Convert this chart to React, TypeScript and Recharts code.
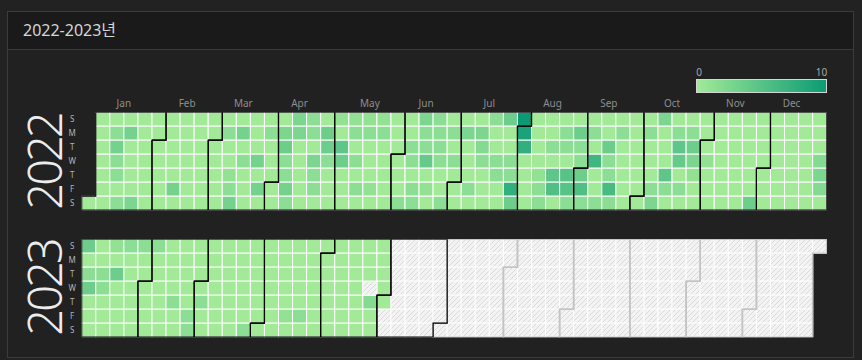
import React from 'react';
import { ScatterChart, Scatter, XAxis, YAxis } from 'recharts';

const TITLE = '2022-2023년';
const MONTH_NAMES = ['Jan', 'Feb', 'Mar', 'Apr', 'May', 'Jun', 'Jul', 'Aug', 'Sep', 'Oct', 'Nov', 'Dec'];
const DAY_LETTERS = ['S', 'M', 'T', 'W', 'T', 'F', 'S'];
const LEGEND_MIN = 0;
const LEGEND_MAX = 10;

type Col = (number | null)[];

// one entry per calendar week (columns), rows Sun..Sat; null = no value
const weeks2022: Col[] = [
  [null, null, null, null, null, null, 0],
  [0, 0, 0, 0, 0, 0, 0],
  [0, 1.5, 3, 1.5, 1.5, 0, 1.5],
  [0, 3, 0, 0, 0, 0, 2.5],
  [0, 0, 0, 0, 0, 0, 0],
  [0, 0, 0, 0, 0, 0, 0],
  [0, 0, 0, 0, 0, 3, 0],
  [0, 0, 0, 0, 0, 0, 0],
  [0, 0, 0, 0, 0, 0, 0],
  [0, 0, 0, 0, 0, 0, 0],
  [0, 1.5, 0, 0, 1, 1.5, 3],
  [0, 3, 0, 1.5, 0, 0, 0],
  [0, 0, 0, 3, 0, 3, 0],
  [0, 1.5, 0, 0, 0, 0, 0],
  [0, 2.5, 3.5, 1.5, 1.5, 3, 1.5],
  [2.5, 2.5, 0, 0, 0, 0, 0],
  [1.5, 1.5, 0, 2.5, 1.5, 1.5, 0],
  [0, 3.5, 3.5, 1.5, 0, 0, 0],
  [1, 0, 4.5, 3.5, 0, 0, 0],
  [1, 1.5, 0, 1.5, 0, 1.5, 0],
  [1, 1.5, 0, 0, 0, 1, 0],
  [1, 1.5, 0, 0, 0, 0, 0],
  [0, 0, 0, 0, 0, 0, 1.5],
  [0, 0, 1.5, 1.5, 0, 1.5, 1.5],
  [2.5, 1.5, 1.5, 4, 0, 1, 0],
  [1.5, 1.5, 1.5, 1.5, 0, 0, 1.5],
  [0, 1.5, 0, 1.5, 0, 0, 0],
  [0, 2.5, 0, 0, 0, 1.5, 0],
  [0, 2.5, 2, 1.5, 0, 0, 0],
  [1.5, 0, 0, 1.5, 1.5, 0, 0],
  [3.5, 0, 0, 1.5, 1.5, 7.5, 3.5],
  [10, 9, 7.5, 0, 0, 0, 0],
  [0, 0, 0, 0, 1, 1.5, 1.5],
  [0, 0, 1.5, 0, 4.5, 5.5, 0],
  [0, 1.5, 1.5, 0, 5, 5, 1.5],
  [0, 3.5, 1.5, 1.5, 3.5, 5.5, 1.5],
  [0, 1.5, 0, 6.5, 0, 0, 1.5],
  [0, 0, 3.5, 1.5, 1.5, 6, 1.5],
  [0, 1.5, 0, 0, 0, 0, 0],
  [0, 0, 0, 0, 0, 0, 0],
  [0, 1.5, 0, 0, 0, 1.5, 2.5],
  [2.5, 0, 0, 0, 4.5, 1.5, 0],
  [0, 1.5, 4.5, 4, 0, 1.5, 0],
  [0, 1.5, 3.5, 2.5, 1, 0, 0],
  [0, 0, 0, 1, 0, 0, 0],
  [0, 0, 0, 0, 0, 0, 0],
  [0, 0, 0, 0, 0, 0, 0],
  [0, 0, 0, 0, 0, 0, 3.5],
  [0, 0, 0, 0, 0, 0, 0],
  [0, 0, 0, 0, 0, 0, 0],
  [0, 0, 0, 0, 0, 0, 0],
  [0, 0, 0, 0, 0, 0, 0],
  [0, 0, 0, 2, 2.5, 2, 0],
];

const weeks2023: Col[] = [
  [3.5, 0, 1.5, 3.5, 0, 0, 0],
  [0, 0, 1.5, 1.5, 0, 0, 0],
  [1, 0, 3.5, 0, 0, 0, 0],
  [1.5, 0, 0, 0, 0, 0, 0],
  [1.5, 0, 0, 0, 0, 0, 0],
  [1.5, 0, 0, 0, 0, 0, 0],
  [0, 0, 0, 0, 1.5, 0, 0],
  [0, 0, 0, 0, 0, 1.5, 1.5],
  [0, 0, 0, 0, 1.5, 0, 0],
  [0, 0, 0, 0, 0, 0, 0],
  [0, 0, 0, 0, 0, 0, 0],
  [0, 0, 0, 0, 0, 0, 1.5],
  [0, 0, 0, 0, 0, 0, 0],
  [0, 0, 0, 0, 0, 0, 0],
  [0, 0, 0, 0, 0, 1, 0],
  [0, 0, 0, 0, 0, 1.5, 0],
  [0, 0, 0, 0, 0, 0, 0],
  [0, 0, 0, 0, 0, 0, 0],
  [0, 0, 0, 0, 0, 0, 0],
  [0, 0, 0, 0, 0, 0, 0],
  [0, 0, 0, null, 2, 0, 0],
  [0, 0, 0, 0, 0, null, null],
];

const FONT = "'Noto Sans', 'Noto Sans CJK KR', sans-serif";
const PLOT_LEFT = 81.7;
const PLOT_RIGHT = 826.7;
const PLOT_W = PLOT_RIGHT - PLOT_LEFT;
const PLOT_H = 98;
const WEEKS = 53;
const CW = PLOT_W / WEEKS;
const CH = PLOT_H / 7;
const PAGE_W = 862;

const LOW = [162, 234, 152];
const HIGH = [11, 155, 116];
const hex = (n: number) => Math.round(n).toString(16).padStart(2, '0');
function colorFor(v: number) {
  const t = Math.max(0, Math.min(1, (v - LEGEND_MIN) / (LEGEND_MAX - LEGEND_MIN)));
  return '#' + LOW.map((l, i) => hex(l + (HIGH[i] - l) * t)).join('');
}

const DAY_MS = 86400000;

function buildYear(year: number, weeks: Col[]) {
  const start = Date.UTC(year, 0, 1);
  const offset = new Date(start).getUTCDay();
  const end = Date.UTC(year + 1, 0, 1);
  const nDays = Math.round((end - start) / DAY_MS);
  const cells: { x: number; y: number; v: number | null; m: number; w: number; r: number }[] = [];
  for (let i = 0; i < nDays; i++) {
    const d = new Date(start + i * DAY_MS);
    const w = Math.floor((i + offset) / 7);
    const r = d.getUTCDay();
    const col = weeks[w];
    const raw = col ? col[r] : null;
    cells.push({ x: w + 0.5, y: r + 0.5, v: raw == null ? null : raw, m: d.getUTCMonth(), w, r });
  }
  const months = MONTH_NAMES.map((name, m) => {
    const mc = cells.filter((c) => c.m === m);
    const a = mc[0];
    const b = mc[mc.length - 1];
    const pts = [
      { x: a.w, y: a.r },
      { x: a.w + 1, y: a.r },
      { x: a.w + 1, y: 0 },
      { x: b.w + 1, y: 0 },
      { x: b.w + 1, y: b.r + 1 },
      { x: b.w, y: b.r + 1 },
      { x: b.w, y: 7 },
      { x: a.w, y: 7 },
      { x: a.w, y: a.r },
    ];
    return { name, pts, center: (a.w + b.w + 1) / 2, hasData: mc.some((c) => c.v != null) };
  });
  return { cells, months };
}

const CellShape = (p: any) => {
  if (p.cx == null || p.cy == null) return <g />;
  const v = p.payload.v;
  return (
    <rect
      x={p.cx - CW / 2}
      y={p.cy - CH / 2}
      width={CW}
      height={CH}
      fill={v == null ? 'url(#hatch)' : colorFor(v)}
      stroke="#ffffff"
      strokeWidth={1}
    />
  );
};
const NoShape = () => <g />;

function YearChart({ year, weeks, svgTop, height, plotTop, showMonths }: any) {
  const { cells, months } = buildYear(year, weeks);
  const xAxisH = showMonths ? 20 : 0;
  const marginTop = plotTop - svgTop - xAxisH;
  const marginBottom = height - (plotTop - svgTop) - PLOT_H;
  const yAxisW = 24;
  const ticks = months.map((m) => m.center);
  const filled = cells.filter((c) => c.v != null);
  const empty = cells.filter((c) => c.v == null);
  const ordered = [...months.filter((m) => !m.hasData), ...months.filter((m) => m.hasData)];
  return (
    <div style={{ position: 'absolute', left: 0, top: svgTop }}>
      <ScatterChart
        width={PAGE_W}
        height={height}
        margin={{ top: marginTop, bottom: marginBottom, left: PLOT_LEFT - yAxisW, right: PAGE_W - PLOT_RIGHT }}
      >
        <XAxis
          type="number"
          dataKey="x"
          domain={[0, WEEKS]}
          allowDataOverflow
          orientation="top"
          hide={!showMonths}
          height={xAxisH}
          ticks={ticks}
          interval={0}
          axisLine={false}
          tickLine={false}
          tickSize={0}
          tickMargin={5}
          tick={(p: any) => {
            const idx = ticks.indexOf(p.payload.value);
            return (
              <text x={p.x} y={p.y} textAnchor="middle" fill="#8e8e8e" fontSize={10} fontFamily={FONT}>
                {MONTH_NAMES[idx]}
              </text>
            );
          }}
        />
        <YAxis
          type="number"
          dataKey="y"
          domain={[0, 7]}
          reversed
          allowDataOverflow
          width={yAxisW}
          ticks={[0.5, 1.5, 2.5, 3.5, 4.5, 5.5, 6.5]}
          interval={0}
          axisLine={false}
          tickLine={false}
          tickSize={0}
          tickMargin={9.5}
          tick={(p: any) => (
            <text x={p.x} y={p.y + 3} textAnchor="middle" fill="#b4b4b4" fontSize={8} fontFamily={FONT}>
              {DAY_LETTERS[Math.floor(p.payload.value)]}
            </text>
          )}
        />
        <Scatter data={filled} shape={CellShape} isAnimationActive={false} legendType="none" />
        <Scatter data={empty} shape={CellShape} isAnimationActive={false} legendType="none" />
        {ordered.map((m) => (
          <Scatter
            key={m.name}
            data={m.pts}
            shape={NoShape}
            line={{ stroke: m.hasData ? '#000000' : '#c4c4c4', strokeWidth: m.hasData ? 1.2 : 1.6, fill: 'none' }}
            lineType="joint"
            isAnimationActive={false}
            legendType="none"
          />
        ))}
      </ScatterChart>
    </div>
  );
}

function YearLabel({ year, cy }: { year: number; cy: number }) {
  return (
    <svg width={80} height={130} style={{ position: 'absolute', left: 0, top: cy - 65 }}>
      <text
        transform={`translate(45.2,65) rotate(-90)`}
        y={16.5}
        textAnchor="middle"
        fontSize={47}
        fontWeight={300}
        letterSpacing={-3}
        fill="#ececec"
        fontFamily={FONT}
      >
        {year}
      </text>
    </svg>
  );
}

function LegendBar() {
  return (
    <svg width={160} height={40} style={{ position: 'absolute', left: 680, top: 60 }}>
      <defs>
        <linearGradient id="legendGrad" x1="0" x2="1" y1="0" y2="0">
          <stop offset="0%" stopColor={colorFor(LEGEND_MIN)} />
          <stop offset="100%" stopColor={colorFor(LEGEND_MAX)} />
        </linearGradient>
      </defs>
      <rect x={16.5} y={19.5} width={130} height={13} fill="url(#legendGrad)" stroke="#d6d6d6" strokeWidth={1} />
      <text x={19} y={15.5} textAnchor="middle" fontSize={10} fill="#a8a8a8" fontFamily={FONT}>
        {LEGEND_MIN}
      </text>
      <text x={141.5} y={15.5} textAnchor="middle" fontSize={10} fill="#a8a8a8" fontFamily={FONT}>
        {LEGEND_MAX}
      </text>
    </svg>
  );
}

export default function App() {
  return (
    <div style={{ position: 'relative', width: 862, height: 360, background: '#222222', overflow: 'hidden', fontFamily: FONT }}>
      <style>{`body{margin:0;background:#222222;}`}</style>
      <svg width={0} height={0} style={{ position: 'absolute' }}>
        <defs>
          <pattern id="hatch" patternUnits="userSpaceOnUse" width="5" height="5">
            <rect width="5" height="5" fill="#f3f3f3" />
            <path d="M-1,1 l2,-2 M0,5 l5,-5 M4,6 l2,-2" stroke="#dadada" strokeWidth="1" />
          </pattern>
        </defs>
      </svg>
      <div
        style={{
          position: 'absolute',
          left: 7,
          top: 11,
          width: 847,
          height: 347,
          boxSizing: 'border-box',
          border: '1px solid #3b3b3b',
          background: '#212121',
        }}
      >
        <div style={{ height: 37, background: '#1a1a1a', borderBottom: '1px solid #3b3b3b' }} />
      </div>
      <div
        style={{
          position: 'absolute',
          left: 23,
          top: 20,
          fontSize: 16,
          lineHeight: '20px',
          color: '#d6d6d6',
          whiteSpace: 'nowrap',
        }}
      >
        {TITLE}
      </div>
      <LegendBar />
      <YearChart year={2022} weeks={weeks2022} svgTop={55} height={162} plotTop={112.2} showMonths />
      <YearChart year={2023} weeks={weeks2023} svgTop={225} height={120} plotTop={239.2} showMonths={false} />
      <YearLabel year={2022} cy={161.5} />
      <YearLabel year={2023} cy={288.2} />
    </div>
  );
}
